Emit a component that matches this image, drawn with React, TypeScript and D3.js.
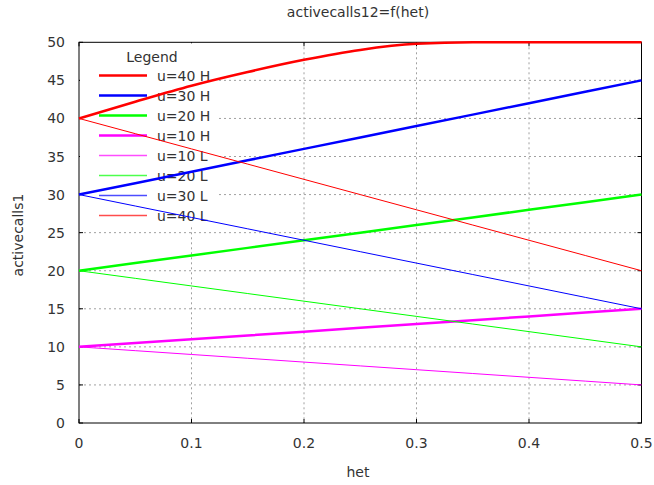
import React from 'react';
import * as d3 from 'd3';

// het sample points
const het = [0, 0.05, 0.1, 0.15, 0.2, 0.25, 0.3, 0.35, 0.4, 0.45, 0.5];

const u40H = [40, 42.2, 44.3, 46.1, 47.7, 49.0, 49.8, 50, 50, 50, 50];
const u30H = [30, 31.5, 33, 34.5, 36, 37.5, 39, 40.5, 42, 43.5, 45];
const u20H = [20, 21, 22, 23, 24, 25, 26, 27, 28, 29, 30];
const u10H = [10, 10.5, 11, 11.5, 12, 12.5, 13, 13.5, 14, 14.5, 15];
const u10L = [10, 9.5, 9, 8.5, 8, 7.5, 7, 6.5, 6, 5.5, 5];
const u20L = [20, 19, 18, 17, 16, 15, 14, 13, 12, 11, 10];
const u30L = [30, 28.5, 27, 25.5, 24, 22.5, 21, 19.5, 18, 16.5, 15];
const u40L = [40, 38, 36, 34, 32, 30, 28, 26, 24, 22, 20];

const seriesNames = ['u=40 H', 'u=30 H', 'u=20 H', 'u=10 H', 'u=10 L', 'u=20 L', 'u=30 L', 'u=40 L'];
const seriesValues = [u40H, u30H, u20H, u10H, u10L, u20L, u30L, u40L];
const seriesColors = ['#ff0000', '#0000ff', '#00ff00', '#ff00ff', '#ff00ff', '#00ff00', '#0000ff', '#ff0000'];
const seriesWidths = [2.5, 2.5, 2.5, 2.5, 1, 1, 1, 1];

const xTicks = [0, 0.1, 0.2, 0.3, 0.4, 0.5];
const yTicks = [0, 5, 10, 15, 20, 25, 30, 35, 40, 45, 50];

const W = 654;
const H = 485;
const left = 79, right = 641.5, top = 42.3, bottom = 423;
const font = 'DejaVu Sans, sans-serif';
const textColor = '#333';

export default function App() {
  const x = d3.scaleLinear().domain([0, 0.5]).range([left, right]);
  const y = d3.scaleLinear().domain([0, 50]).range([bottom, top]);

  const line = (vals: number[], curved: boolean) =>
    d3.line<number>()
      .x((_, i) => x(het[i]))
      .y((v) => y(v))
      .curve(curved ? d3.curveMonotoneX : d3.curveLinear)(vals) || '';

  const tick = 4;

  return (
    <div style={{ position: 'absolute', left: 0, top: 0 }}>
      <svg width={W} height={H} style={{ display: 'block', background: '#fff' }}>
        <rect x={0} y={0} width={W} height={H} fill="#fff" />

        {/* grid */}
        {xTicks.slice(1, -1).map((t) => (
          <line key={'gx' + t} x1={x(t)} x2={x(t)} y1={top} y2={bottom}
            stroke="#a0a0a0" strokeWidth={1} strokeDasharray="2,3" />
        ))}
        {yTicks.slice(1, -1).map((t) => (
          <line key={'gy' + t} x1={left} x2={right} y1={y(t)} y2={y(t)}
            stroke="#a0a0a0" strokeWidth={1} strokeDasharray="2,3" />
        ))}

        {/* frame */}
        <rect x={left} y={top} width={right - left} height={bottom - top} fill="none" stroke="#000" strokeWidth={1} />
        {xTicks.map((t) => (
          <g key={'tx' + t}>
            <line x1={x(t)} x2={x(t)} y1={bottom} y2={bottom - tick} stroke="#000" />
            <line x1={x(t)} x2={x(t)} y1={top} y2={top + tick} stroke="#000" />
            <text x={x(t)} y={448} textAnchor="middle" fontFamily={font} fontSize={14} fill={textColor}>{t}</text>
          </g>
        ))}
        {yTicks.map((t) => (
          <g key={'ty' + t}>
            <line x1={left} x2={left + tick} y1={y(t)} y2={y(t)} stroke="#000" />
            <line x1={right} x2={right - tick} y1={y(t)} y2={y(t)} stroke="#000" />
            <text x={65} y={y(t)} dy="0.36em" textAnchor="end" fontFamily={font} fontSize={14} fill={textColor}>{t}</text>
          </g>
        ))}

        {/* legend background */}
        <rect x={left + 1} y={top + 1} width={138} height={182} fill="#fff" />
        <text x={152} y={62} textAnchor="middle" fontFamily={font} fontSize={14} fill={textColor}>Legend</text>
        {seriesNames.map((name, i) => {
          const ly = 75.5 + i * 20;
          return (
            <g key={name}>
              <line x1={99} x2={147} y1={ly} y2={ly} stroke={seriesColors[i]}
                strokeOpacity={i < 4 ? 1 : 0.7} strokeWidth={i < 4 ? 2.5 : 1.5} />
              <text x={157} y={ly} dy="0.36em" fontFamily={font} fontSize={14} fill={textColor}>{name}</text>
            </g>
          );
        })}

        {/* data */}
        {seriesValues.map((vals, i) => (
          <path key={seriesNames[i]} d={line(vals, i === 0)} fill="none"
            stroke={seriesColors[i]} strokeWidth={seriesWidths[i]} />
        ))}

        {/* titles */}
        <text x={358} y={17} textAnchor="middle" fontFamily={font} fontSize={14} fill={textColor}>activecalls12=f(het)</text>
        <text x={358} y={477} textAnchor="middle" fontFamily={font} fontSize={14} fill={textColor}>het</text>
        <text transform={`translate(18,${235}) rotate(-90)`} textAnchor="middle" dy="0.36em"
          fontFamily={font} fontSize={14} fill={textColor}>activecalls1</text>
      </svg>
    </div>
  );
}
